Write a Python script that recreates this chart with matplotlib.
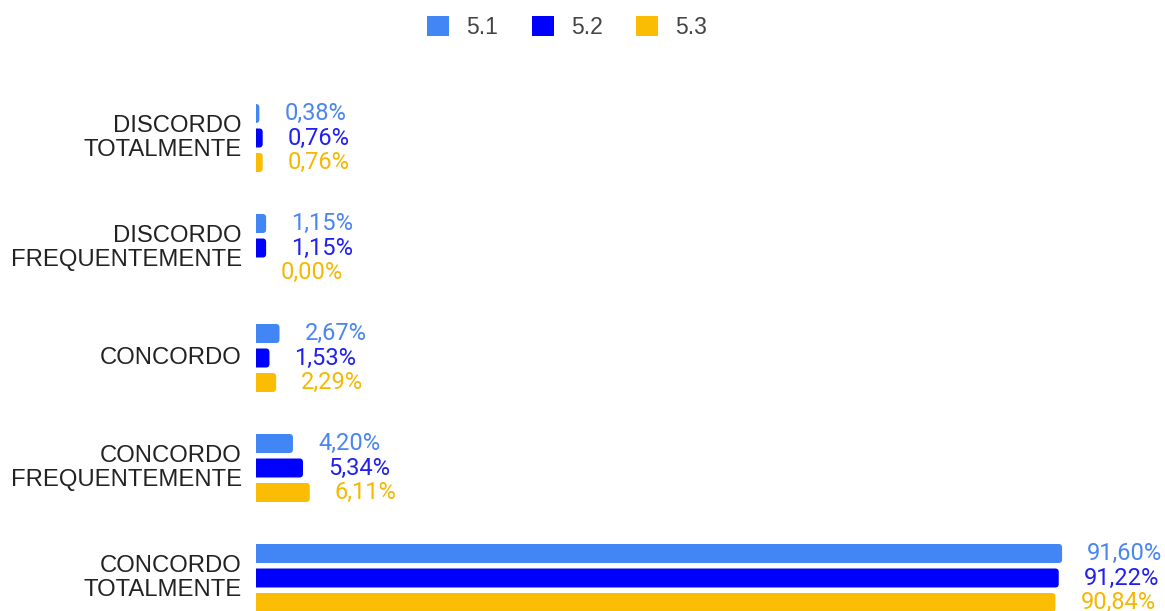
import matplotlib
matplotlib.use("Agg")
import matplotlib.pyplot as plt
from matplotlib.patches import FancyBboxPatch, Patch
import numpy as np

categories = ["DISCORDO\nTOTALMENTE", "DISCORDO\nFREQUENTEMENTE", "CONCORDO",
              "CONCORDO\nFREQUENTEMENTE", "CONCORDO\nTOTALMENTE"]
series_names = ["5.1", "5.2", "5.3"]
s51 = [0.38, 1.15, 2.67, 4.20, 91.60]
s52 = [0.76, 1.15, 1.53, 5.34, 91.22]
s53 = [0.76, 0.00, 2.29, 6.11, 90.84]
colors = ["#4285F4", "#0000FF", "#FBBC04"]
label_colors = ["#4a86f0", "#2020f0", "#f5b800"]

W, H = 1165, 611
fig = plt.figure(figsize=(W / 100, H / 100), dpi=100)
plt.rcParams['font.family'] = ['Roboto', 'DejaVu Sans']

left_px, right_px = 256, 256 + 880
top_px, bot_px = 83, 611
ax = fig.add_axes([left_px / W, 1 - bot_px / H, (right_px - left_px) / W, (bot_px - top_px) / H])
ax.set_xlim(0, 100)
ax.set_ylim((bot_px - 138) / 110, (top_px - 138) / 110)
ax.axis("off")

y = np.arange(len(categories))
bh = 19 / 110
off = 24.5 / 110
series = [s51, s52, s53]
px_x = 880 / 100  # px per unit
px_y = 110.0
r_px = 3.5
for i, vals in enumerate(series):
    bars = ax.barh(y + (i - 1) * off, vals, height=bh, color=colors[i])
    for b, v in zip(bars, vals):
        b.set_visible(False)
        if v > 0:
            x0, y0 = b.get_x(), b.get_y()
            w, h = b.get_width(), b.get_height()
            rx = r_px / px_x
            fb = FancyBboxPatch((x0 - rx, y0), w + rx, h,
                                boxstyle=f"round,pad=0,rounding_size={rx}",
                                mutation_aspect=(1 / px_y) / (1 / px_x),
                                facecolor=colors[i], edgecolor="none")
            ax.add_patch(fb)
        ax.annotate(f"{v:.2f}%".replace(".", ","), xy=(v, b.get_y() + b.get_height() / 2),
                    xytext=(18, 0), textcoords="offset points", va="center", ha="left",
                    fontsize=17, color=label_colors[i], annotation_clip=False)

for yi, cat in zip(y, categories):
    ax.text(-1.6, yi, cat, ha="right", va="center", fontsize=17.2, color="#222222",
            linespacing=1.08, family=["Liberation Sans", "DejaVu Sans"])

handles = [Patch(facecolor=c, edgecolor="none") for c in colors]
leg = fig.legend(handles, series_names, loc="center", bbox_to_anchor=(567 / W, 1 - 27 / H),
                 ncol=3, frameon=False, handlelength=0.96, handleheight=0.96,
                 columnspacing=1.48, handletextpad=0.74, labelcolor="#444444",
                 prop={"family": ["Liberation Sans", "DejaVu Sans"], "size": 16.5})

fig.savefig("out.png", dpi=100)
